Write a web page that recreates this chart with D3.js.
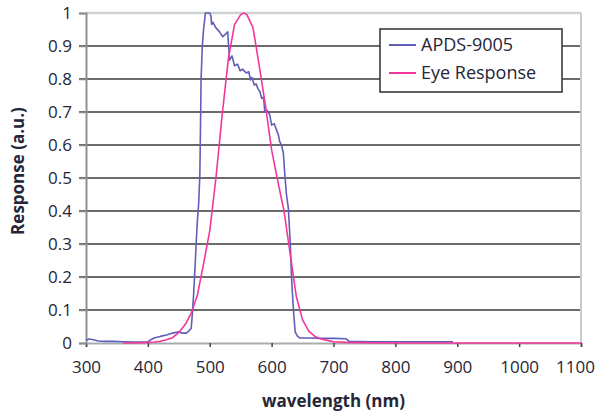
<!DOCTYPE html>
<html>
<head>
<meta charset="utf-8">
<script src="https://cdn.jsdelivr.net/npm/d3@7"></script>
<style>
  body { margin: 0; background: #fff; }
  svg text { font-family: "Open Sans", sans-serif; fill: #262638; }
</style>
</head>
<body>
<div id="chart"></div>
<script>
// APDS-9005 sensor response
var apdsWl = [300, 305, 312, 320, 330, 345, 360, 380, 400, 405, 410, 420, 430, 440, 450, 455, 462, 466, 470,
  472, 474, 476, 478, 480, 482, 484, 485, 486, 488, 490, 493, 500, 502, 503, 505, 510, 515, 521, 525, 529,
  532, 536, 540, 545, 549, 553, 559, 563, 566, 568, 572, 575, 578, 581, 584, 587, 589, 593, 597, 600, 604,
  608, 611, 613, 616, 619, 621, 624, 627, 630, 632, 635, 638, 642, 646, 660, 680, 700, 720, 725, 760, 800,
  850, 893];
var apdsResp = [0.008, 0.012, 0.01, 0.006, 0.005, 0.005, 0.004, 0.003, 0.004, 0.01, 0.015, 0.02, 0.024, 0.03,
  0.034, 0.03, 0.03, 0.036, 0.045, 0.09, 0.15, 0.22, 0.3, 0.37, 0.42, 0.51, 0.65, 0.8, 0.9, 0.95, 1.0, 1.0,
  0.99, 0.965, 0.972, 0.955, 0.945, 0.928, 0.935, 0.943, 0.857, 0.87, 0.84, 0.845, 0.825, 0.83, 0.818, 0.822,
  0.797, 0.805, 0.782, 0.785, 0.77, 0.762, 0.741, 0.745, 0.70, 0.705, 0.691, 0.66, 0.665, 0.645, 0.63, 0.61,
  0.6, 0.575, 0.519, 0.45, 0.409, 0.307, 0.206, 0.106, 0.034, 0.02, 0.015, 0.015, 0.014, 0.014, 0.013, 0.005,
  0.004, 0.004, 0.004, 0.004];

// Eye (photopic) response
var eyeWl = [360, 380, 400, 410, 420, 430, 440, 450, 460, 470, 480, 490, 500, 510, 520, 530, 540, 550, 555,
  560, 570, 580, 590, 600, 610, 620, 630, 640, 650, 660, 670, 680, 690, 700, 720, 750, 800, 900, 1000, 1100];
var eyeResp = [0, 0.0005, 0.002, 0.003, 0.005, 0.01, 0.016, 0.032, 0.055, 0.09, 0.145, 0.24, 0.34, 0.5,
  0.69, 0.86, 0.965, 0.995, 1.0, 0.995, 0.955, 0.84, 0.72, 0.585, 0.49, 0.4, 0.27, 0.14, 0.07, 0.036, 0.02,
  0.012, 0.008, 0.004, 0.002, 0.001, 0, 0, 0, 0];

var xTicks = [300, 400, 500, 600, 700, 800, 900, 1000, 1100];
var yTicks = [0, 0.1, 0.2, 0.3, 0.4, 0.5, 0.6, 0.7, 0.8, 0.9, 1];
var seriesNames = ['APDS-9005', 'Eye Response'];
var seriesColors = ['#5f5fb8', '#f2379a'];

var W = 599, H = 414;
var margin = { top: 13, right: 18, bottom: 71, left: 86 };
var width = W - margin.left - margin.right,
  height = H - margin.top - margin.bottom;

var svg = d3.select('#chart').append('svg')
  .attr('width', W)
  .attr('height', H);

var g = svg.append('g')
  .attr('transform', 'translate(' + margin.left + ',' + margin.top + ')');

var x = d3.scaleLinear().domain([300, 1100]).range([0, width]);
var y = d3.scaleLinear().domain([0, 1]).range([height, 0]);

// gridlines (top one is the light frame)
g.selectAll('line.grid')
  .data(yTicks.filter(function(d) { return d > 0; }))
  .enter().append('line')
  .attr('class', 'grid')
  .attr('x1', function(d) { return d < 1 ? -7 : 0; })
  .attr('x2', width)
  .attr('y1', function(d) { return y(d); })
  .attr('y2', function(d) { return y(d); })
  .attr('stroke', function(d) { return d < 1 ? '#3a3a3a' : '#cfd2d4'; })
  .attr('stroke-width', function(d) { return d < 1 ? 1.6 : 2.5; });

// right frame
g.append('line')
  .attr('x1', width).attr('x2', width)
  .attr('y1', 0).attr('y2', height)
  .attr('stroke', '#c8cbcd').attr('stroke-width', 2);

// x axis
var xAxis = g.append('g')
  .attr('transform', 'translate(0,' + height + ')')
  .call(d3.axisBottom(x).tickValues(xTicks).tickSize(4).tickPadding(14).tickFormat(d3.format('d')));
xAxis.select('.domain').attr('stroke', '#a9acae').attr('stroke-width', 2);
xAxis.selectAll('.tick line').attr('stroke', '#444').attr('stroke-width', 1.5);
xAxis.selectAll('text').attr('font-size', 17).attr('fill', '#262638')
  .attr('dx', function(d) { return d === 1100 ? -6 : 0; });

// y axis
var yAxis = g.append('g')
  .call(d3.axisLeft(y).tickValues(yTicks).tickSize(7).tickPadding(7)
    .tickFormat(function(d) { return d === 0 || d === 1 ? d3.format('d')(d) : d3.format('.1f')(d); }));
yAxis.select('.domain').attr('stroke', '#8e9193').attr('stroke-width', 2);
yAxis.selectAll('.tick line').attr('stroke', '#888').attr('stroke-width', 1.5);
yAxis.selectAll('text').attr('font-size', 17).attr('fill', '#262638');

// lines
var line = d3.line()
  .x(function(d) { return x(d[0]); })
  .y(function(d) { return y(d[1]); });

var series = [d3.zip(apdsWl, apdsResp), d3.zip(eyeWl, eyeResp)];

g.selectAll('path.series')
  .data(series)
  .enter().append('path')
  .attr('class', 'series')
  .attr('d', line)
  .attr('fill', 'none')
  .attr('stroke', function(d, i) { return seriesColors[i]; })
  .attr('stroke-width', 1.6)
  .attr('stroke-linejoin', 'round');

// legend
var legend = svg.append('g').attr('transform', 'translate(380,29)');
legend.append('rect')
  .attr('width', 182).attr('height', 63)
  .attr('fill', '#fff')
  .attr('stroke', '#3a3a3a').attr('stroke-width', 1.6);
var item = legend.selectAll('g.item')
  .data(seriesNames)
  .enter().append('g')
  .attr('class', 'item')
  .attr('transform', function(d, i) { return 'translate(0,' + (16 + i * 28) + ')'; });
item.append('line')
  .attr('x1', 9).attr('x2', 36)
  .attr('stroke', function(d, i) { return seriesColors[i]; })
  .attr('stroke-width', 2);
item.append('text')
  .attr('x', 41).attr('dy', '0.35em')
  .attr('font-size', 18)
  .text(function(d) { return d; });

// axis titles
svg.append('text')
  .attr('x', margin.left + x(700)).attr('y', 407)
  .attr('text-anchor', 'middle')
  .attr('font-size', 17).attr('font-weight', 'bold')
  .text('wavelength (nm)');

svg.append('text')
  .attr('transform', 'translate(24,171) rotate(-90)')
  .attr('text-anchor', 'middle')
  .attr('font-size', 17).attr('font-weight', 'bold')
  .text('Response (a.u.)');
</script>
</body>
</html>
